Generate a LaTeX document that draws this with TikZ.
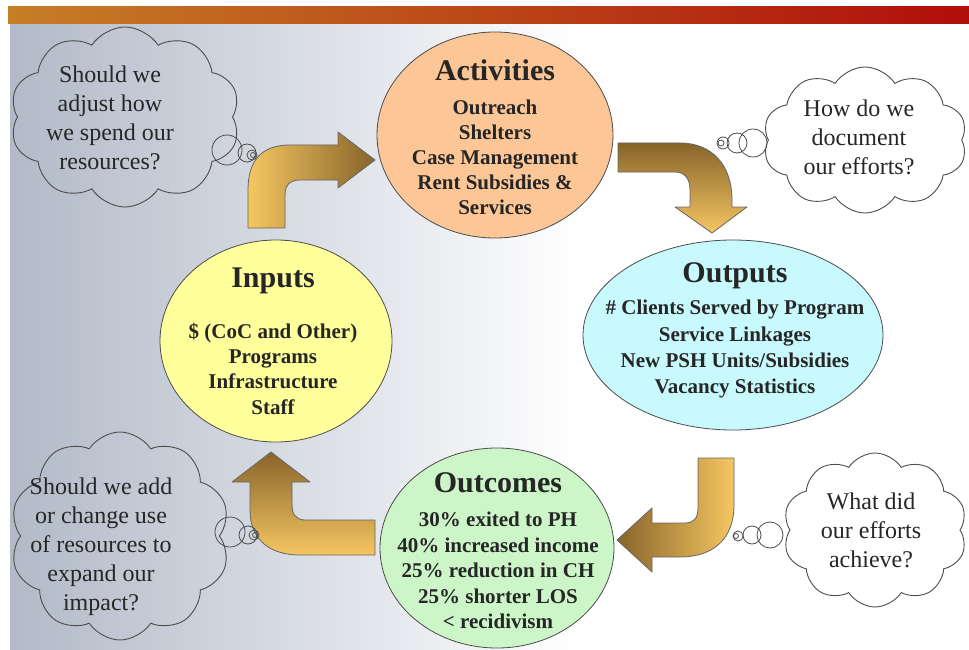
\documentclass[tikz,border=0pt]{standalone}
\usepackage{fontspec}
\setmainfont{Liberation Serif}
\usetikzlibrary{shapes.geometric,shapes.symbols}

\definecolor{peach}{RGB}{252,198,150}
\definecolor{paleyellow}{RGB}{255,255,155}
\definecolor{palecyan}{RGB}{200,250,253}
\definecolor{palegreen}{RGB}{204,245,200}
\definecolor{goldlight}{RGB}{245,198,98}
\definecolor{golddark}{RGB}{135,100,42}
\definecolor{bgslate}{RGB}{178,186,200}
\definecolor{barorange}{RGB}{198,126,38}
\definecolor{barmid}{RGB}{185,70,28}
\definecolor{barred}{RGB}{176,14,10}

\begin{document}
\begin{tikzpicture}[x=1pt, y=-1pt,
    stage/.style={ellipse, draw=black!70, line width=0.8pt},
    stagetext/.style={align=center, inner sep=0pt, text=black!85,
      font=\bfseries\fontsize{21}{25.5}\selectfont},
    title/.style={font=\fontsize{30}{34}\selectfont},
    thought/.style={cloud, cloud puffs=10, cloud puff arc=115,
      cloud ignores aspect, draw=black!70, line width=0.9pt},
    question/.style={align=center, text=black!85, font=\fontsize{24}{29}\selectfont},
    bubble/.style={draw=black!70, line width=0.8pt},
    bigarrow/.style={draw=black!60, line width=0.8pt, line join=round}]

    \useasboundingbox (0,0) rectangle (969,650);
    \fill [white] (0,0) rectangle (969,650);
    \shade [left color=bgslate, right color=white] (10,23) rectangle (580,650);
    \shade [left color=barorange, middle color=barmid, right color=barred]
      (8,7) rectangle (969,24);

    \node [stage, fill=peach, minimum width=236pt, minimum height=206pt]
      (activities) at (495,135) {};
    \node [stage, fill=paleyellow, minimum width=232pt, minimum height=202pt]
      (inputs) at (276,341) {};
    \node [stage, fill=palecyan, minimum width=300pt, minimum height=190pt]
      (outputs) at (733,335) {};
    \node [stage, fill=palegreen, minimum width=234pt, minimum height=200pt]
      (outcomes) at (497,548) {};

    \node [stagetext, font=\bfseries\fontsize{21}{25}\selectfont]
      (activitiestext) at (495,137)
      {{\fontsize{30}{34}\selectfont Activities}\\[9pt]
       Outreach\\Shelters\\Case Management\\Rent Subsidies \&\\Services};
    \node [stagetext, font=\bfseries\fontsize{21}{25.3}\selectfont]
      (inputstext) at (273,341)
      {{\fontsize{30}{34}\selectfont Inputs}\\[25.5pt]
       \$ (CoC and Other)\\Programs\\Infrastructure\\Staff};
    \node [stagetext, font=\bfseries\fontsize{21}{26.3}\selectfont]
      (outputstext) at (735,330.5)
      {{\fontsize{30}{34}\selectfont Outputs}\\[6pt]
       \# Clients Served by Program\\Service Linkages\\
       New PSH Units/Subsidies\\Vacancy Statistics};
    \node [stagetext] (outcomestext) at (498,551)
      {{\fontsize{30}{34}\selectfont Outcomes}\\[8.5pt]
       30\% exited to PH\\40\% increased income\\25\% reduction in CH\\
       25\% shorter LOS\\< recidivism};

    \draw [bigarrow, left color=goldlight, right color=golddark]
      (248,228) -- (248,190) .. controls (248,160) and (262,145) .. (290,145)
      -- (338,145) -- (338,132) -- (375,160) -- (338,188) -- (338,180)
      -- (300,180) .. controls (290,180) and (285,185) .. (285,195)
      -- (285,228) -- cycle;
    \draw [bigarrow, top color=golddark, bottom color=goldlight]
      (618,143) -- (680,143) .. controls (712,143) and (732,165) .. (732,200)
      -- (732,207) -- (747,207) -- (712,233) -- (675,207) -- (690,207)
      -- (690,190) .. controls (690,178) and (684,172) .. (675,172)
      -- (618,172) -- cycle;
    \draw [bigarrow, left color=golddark, right color=goldlight]
      (734,458) -- (734,505) .. controls (734,540) and (712,557) .. (680,557)
      -- (652,557) -- (652,572) -- (617,540) -- (652,508) -- (652,523)
      -- (685,523) .. controls (694,523) and (698,518) .. (698,508)
      -- (698,458) -- cycle;
    \draw [bigarrow, top color=golddark, bottom color=goldlight]
      (375,520) -- (305,520) .. controls (296,520) and (292,514) .. (292,505)
      -- (292,482) -- (310,482) -- (271,452) -- (232,482) -- (250,482)
      -- (250,510) .. controls (250,540) and (270,555) .. (300,555)
      -- (375,555) -- cycle;

    \node [thought, minimum width=230pt, minimum height=180pt] (adjust) at (125,117) {};
    \node [question] (adjusttext) at (110,118)
      {Should we\\adjust how\\we spend our\\resources?};
    \node [thought, minimum width=204pt, minimum height=146pt] (document) at (865,140) {};
    \node [question] (documenttext) at (859,137)
      {How do we\\document\\our efforts?};
    \node [thought, minimum width=184pt, minimum height=154pt] (achieve) at (875,530) {};
    \node [question] (achievetext) at (871,530)
      {What did\\our efforts\\achieve?};
    \node [thought, minimum width=220pt, minimum height=208pt] (expand) at (120,536) {};
    \node [question] (expandtext) at (101,547)
      {Should we add\\or change use\\of resources to\\expand our\\impact?};

    \foreach \cx/\cy/\r in {227/150/15, 247/153/9, 252/155/5, 253/155/2.5}
      \draw [bubble] (\cx,\cy) circle [radius=\r pt];
    \foreach \cx/\cy/\r in {753/143/14, 737/143/10, 723/143/6, 721/143/3}
      \draw [bubble] (\cx,\cy) circle [radius=\r pt];
    \foreach \cx/\cy/\r in {770/535/13, 752/535/9, 738/536/5, 736/536/2.5}
      \draw [bubble] (\cx,\cy) circle [radius=\r pt];
    \foreach \cx/\cy/\r in {230/532/15, 248/535/9, 254/535/5, 255/535/2.5}
      \draw [bubble] (\cx,\cy) circle [radius=\r pt];
  \end{tikzpicture}
\end{document}
